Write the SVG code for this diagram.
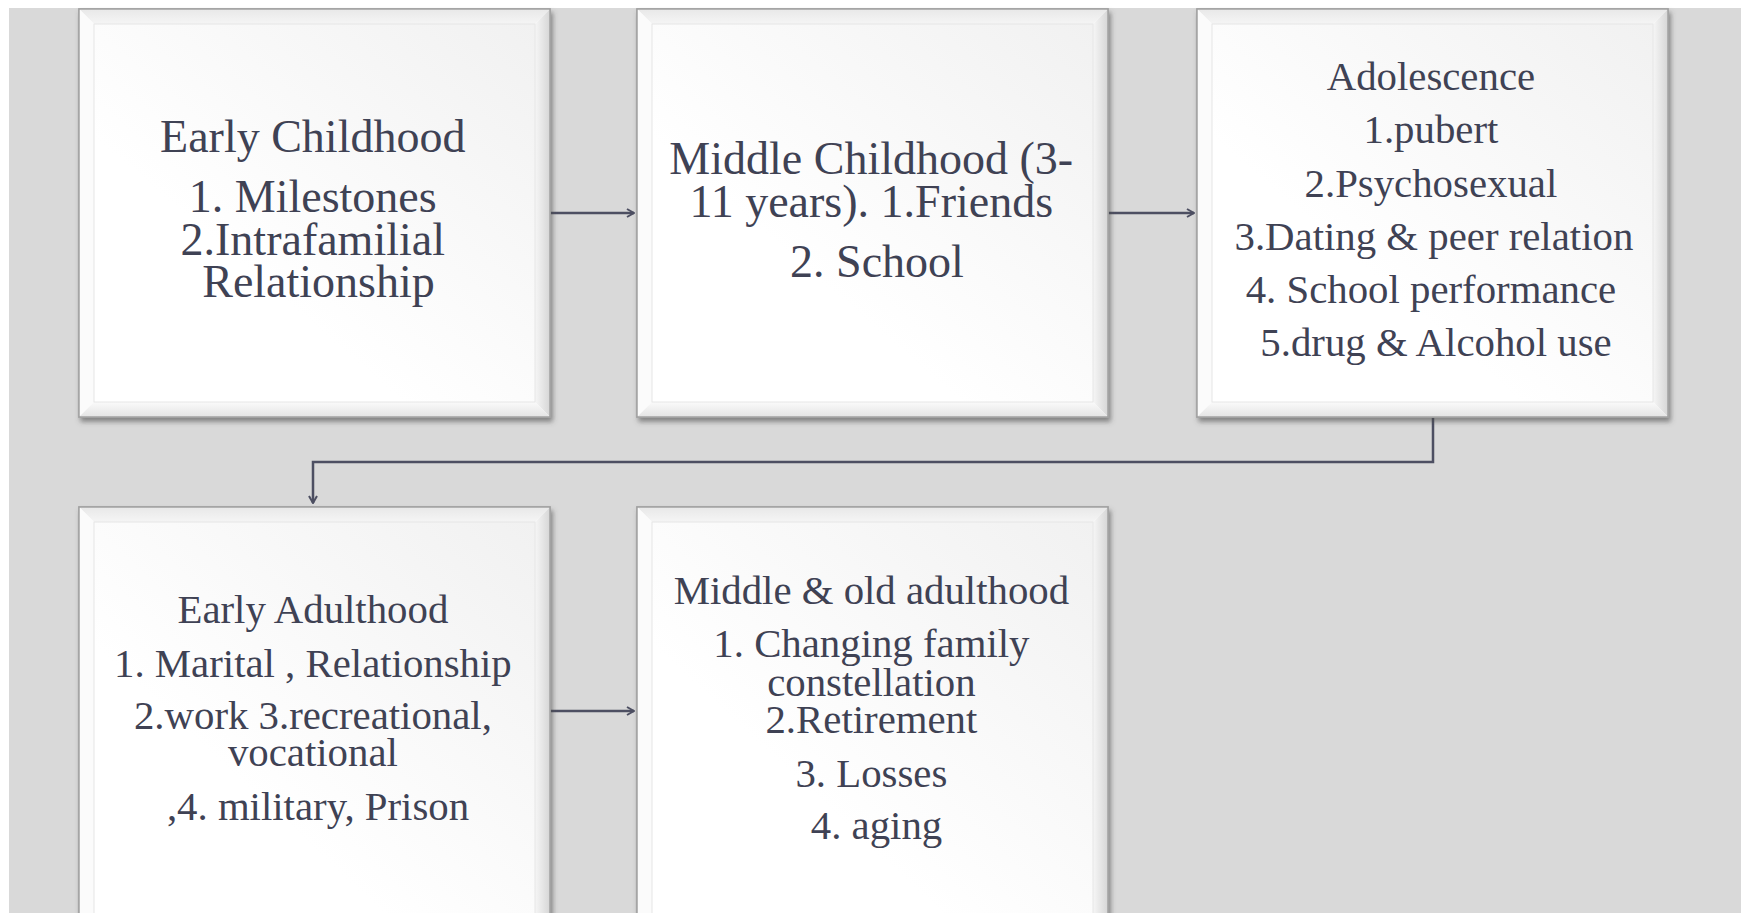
<svg xmlns="http://www.w3.org/2000/svg" width="1741" height="913" viewBox="0 0 1741 913">
  <style>
    .frame { fill: #ffffff; stroke: #a2a2a2; stroke-width: 1.5; filter: url(#drop); }
    .bev-top { fill: url(#gTop); }
    .bev-left { fill: #fbfbfb; }
    .bev-right { fill: url(#gRight); }
    .bev-bottom { fill: url(#gBottom); }
    .face { fill: url(#gFace); }
    .seam { fill: none; stroke: #e6e6e6; stroke-width: 1; }
    .label { font-family: "Liberation Serif", "Times New Roman", serif; fill: #3f4254; text-anchor: middle; }
    .big { font-size: 46px; }
    .small { font-size: 40.8px; }
    .link { fill: none; stroke: #4d4f62; stroke-width: 2.5; }
  </style>
  <defs>
    <linearGradient id="gFace" x1="1" y1="0" x2="0.35" y2="0.65">
      <stop offset="0" stop-color="#f1f1f1"/>
      <stop offset="1" stop-color="#ffffff"/>
    </linearGradient>
    <linearGradient id="gTop" x1="0" y1="0" x2="0" y2="1">
      <stop offset="0" stop-color="#e8e8e8"/>
      <stop offset="1" stop-color="#f5f5f5"/>
    </linearGradient>
    <linearGradient id="gRight" x1="0" y1="0" x2="1" y2="0">
      <stop offset="0" stop-color="#f6f6f6"/>
      <stop offset="1" stop-color="#d6d6d6"/>
    </linearGradient>
    <linearGradient id="gBottom" x1="0" y1="0" x2="0" y2="1">
      <stop offset="0" stop-color="#fafafa"/>
      <stop offset="1" stop-color="#e4e4e4"/>
    </linearGradient>
    <filter id="drop" x="-5%" y="-5%" width="112%" height="115%">
      <feDropShadow dx="2" dy="4" stdDeviation="2.5" flood-color="#4a4a4a" flood-opacity="0.6"/>
    </filter>
    <marker id="head" viewBox="0 0 10 10" refX="9" refY="5" markerWidth="10" markerHeight="10" markerUnits="userSpaceOnUse" orient="auto">
      <path d="M2,1 L9,5 L2,9" fill="none" stroke="#4d4f62" stroke-width="2"/>
    </marker>
  </defs>

  <!-- page -->
  <rect x="0" y="0" width="1741" height="913" fill="#ffffff"/>
  <rect x="9" y="8" width="1732" height="905" fill="#d9d9d9"/>

  <!-- connectors -->
  <g id="connectors">
    <path class="link" d="M550,213 H634" marker-end="url(#head)"/>
    <path class="link" d="M1108,213 H1194" marker-end="url(#head)"/>
    <path class="link" d="M1433,417 V462 H313 V503" marker-end="url(#head)"/>
    <path class="link" d="M550,711 H634" marker-end="url(#head)"/>
  </g>

  <!-- Early Childhood -->
  <g id="early-childhood">
    <rect class="frame" x="79" y="9" width="471" height="408"/>
    <polygon class="bev-top" points="79,9 550,9 535,24 94,24"/>
    <polygon class="bev-left" points="79,9 94,24 94,402 79,417"/>
    <polygon class="bev-right" points="550,9 550,417 535,402 535,24"/>
    <polygon class="bev-bottom" points="79,417 94,402 535,402 550,417"/>
    <rect class="face" x="94" y="24" width="441" height="378"/>
    <rect class="seam" x="94" y="24" width="441" height="378"/>
    <rect x="79" y="9" width="471" height="408" fill="none" stroke="#a2a2a2" stroke-width="1.5"/>
    <text class="label big">
      <tspan x="318.5" y="152">Early Childhood</tspan>
      <tspan x="318.5" y="212">1. Milestones</tspan>
      <tspan x="318.5" y="255">2.Intrafamilial</tspan>
      <tspan x="318.5" y="297">Relationship</tspan>
    </text>
  </g>

  <!-- Middle Childhood -->
  <g id="middle-childhood">
    <rect class="frame" x="637" y="9" width="471" height="408"/>
    <polygon class="bev-top" points="637,9 1108,9 1093,24 652,24"/>
    <polygon class="bev-left" points="637,9 652,24 652,402 637,417"/>
    <polygon class="bev-right" points="1108,9 1108,417 1093,402 1093,24"/>
    <polygon class="bev-bottom" points="637,417 652,402 1093,402 1108,417"/>
    <rect class="face" x="652" y="24" width="441" height="378"/>
    <rect class="seam" x="652" y="24" width="441" height="378"/>
    <rect x="637" y="9" width="471" height="408" fill="none" stroke="#a2a2a2" stroke-width="1.5"/>
    <text class="label big">
      <tspan x="877" y="174">Middle Childhood (3-</tspan>
      <tspan x="877" y="217">11 years). 1.Friends</tspan>
      <tspan x="877" y="277">2. School</tspan>
    </text>
  </g>

  <!-- Adolescence -->
  <g id="adolescence">
    <rect class="frame" x="1197" y="9" width="471" height="408"/>
    <polygon class="bev-top" points="1197,9 1668,9 1653,24 1212,24"/>
    <polygon class="bev-left" points="1197,9 1212,24 1212,402 1197,417"/>
    <polygon class="bev-right" points="1668,9 1668,417 1653,402 1653,24"/>
    <polygon class="bev-bottom" points="1197,417 1212,402 1653,402 1668,417"/>
    <rect class="face" x="1212" y="24" width="441" height="378"/>
    <rect class="seam" x="1212" y="24" width="441" height="378"/>
    <rect x="1197" y="9" width="471" height="408" fill="none" stroke="#a2a2a2" stroke-width="1.5"/>
    <text class="label small">
      <tspan x="1436" y="90">Adolescence</tspan>
      <tspan x="1436" y="143">1.pubert</tspan>
      <tspan x="1436" y="197">2.Psychosexual</tspan>
      <tspan x="1439" y="250">3.Dating &amp; peer relation</tspan>
      <tspan x="1436" y="303">4. School performance</tspan>
      <tspan x="1436" y="356">5.drug &amp; Alcohol use</tspan>
    </text>
  </g>

  <!-- Early Adulthood -->
  <g id="early-adulthood">
    <rect class="frame" x="79" y="507" width="471" height="440"/>
    <polygon class="bev-top" points="79,507 550,507 535,522 94,522"/>
    <polygon class="bev-left" points="79,507 94,522 94,932 79,947"/>
    <polygon class="bev-right" points="550,507 550,947 535,932 535,522"/>
    <rect class="face" x="94" y="522" width="441" height="410"/>
    <rect class="seam" x="94" y="522" width="441" height="410"/>
    <rect x="79" y="507" width="471" height="440" fill="none" stroke="#a2a2a2" stroke-width="1.5"/>
    <text class="label small">
      <tspan x="318" y="623">Early Adulthood</tspan>
      <tspan x="318" y="677">1. Marital , Relationship</tspan>
      <tspan x="318" y="729">2.work 3.recreational,</tspan>
      <tspan x="318" y="766">vocational</tspan>
      <tspan x="318" y="820">,4. military, Prison</tspan>
    </text>
  </g>

  <!-- Middle & old adulthood -->
  <g id="middle-old-adulthood">
    <rect class="frame" x="637" y="507" width="471" height="440"/>
    <polygon class="bev-top" points="637,507 1108,507 1093,522 652,522"/>
    <polygon class="bev-left" points="637,507 652,522 652,932 637,947"/>
    <polygon class="bev-right" points="1108,507 1108,947 1093,932 1093,522"/>
    <rect class="face" x="652" y="522" width="441" height="410"/>
    <rect class="seam" x="652" y="522" width="441" height="410"/>
    <rect x="637" y="507" width="471" height="440" fill="none" stroke="#a2a2a2" stroke-width="1.5"/>
    <text class="label small">
      <tspan x="876.5" y="604">Middle &amp; old adulthood</tspan>
      <tspan x="876.5" y="657">1. Changing family</tspan>
      <tspan x="876.5" y="696">constellation</tspan>
      <tspan x="876.5" y="733">2.Retirement</tspan>
      <tspan x="876.5" y="787">3. Losses</tspan>
      <tspan x="876.5" y="839">4. aging</tspan>
    </text>
  </g>
</svg>
